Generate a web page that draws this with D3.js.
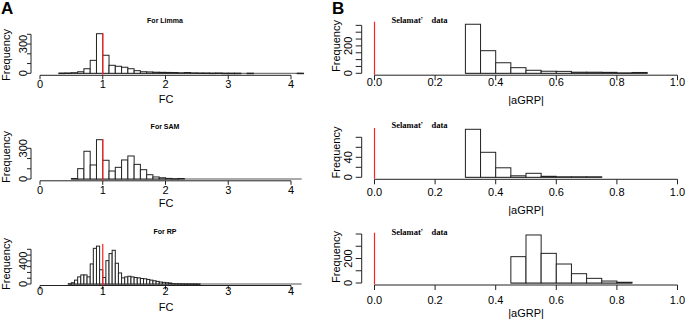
<!DOCTYPE html>
<html><head><meta charset="utf-8">
<script src="https://cdn.jsdelivr.net/npm/d3@7"></script>
<style>
body{margin:0;background:#fff}
svg{display:block}
text{font-family:"Liberation Sans",Arial,Helvetica,sans-serif;fill:#000}
</style>
</head><body>
<svg id="c" width="685" height="321"></svg>
<script>
// ---- data ----
// Panel A: fold-change (FC) histograms
const fcTicks = [0, 1, 2, 3, 4];
const limmaStart = 0.3, limmaWidth = 0.1;
const limmaCounts = [2,3,6,16,47,133,406,185,82,72,62,47,27,16,14,11,10,9,8,5,8,4,3,3,2,3,1,1,1,0,1,0,0,0,0,0,0,0,1];
const samStart = 0.5, samWidth = 0.1;
const samCounts = [5,101,271,137,384,183,78,114,186,225,143,91,42,20,12,6,3,5];
const rpStart = 0.45, rpWidth = 0.05;
const rpCounts = [5,22,67,123,157,157,123,347,617,655,246,112,404,526,583,359,191,106,123,134,123,112,106,95,90,79,67,56,45,34,28,22,17,6,5,4,3,2,2,2,1,1];
// Panel B: |aGRP| histograms (Selamat' data)
const agrpTicks = [0, 0.2, 0.4, 0.6, 0.8, 1.0];
const selWidth = 0.05;
const sel1Start = 0.3;
const sel1Counts = [358,165,77,41,22,15,14,8,8,7,3,6];
const sel2Start = 0.3;
const sel2Counts = [96,50,19,3,8,2,1,1,1];
const sel3Start = 0.45;
const sel3Counts = [215,392,242,155,76,38,16,6];
const titlesA = ["For Limma", "For SAM", "For RP"];
const titleBMain = "Selamat", titleBQuote = "\u2019", titleBTail = " data";
const yTicksA = [[0,100,200,300,400],[0,100,200,300],[0,100,200,300,400,500,600]];
const yLabelsA = [[0,300],[0,300],[0,400]];
const yTicksB = [[0,50,100,150,200,250,300,350],[0,20,40,60,80],[0,100,200,300,400]];
const yLabelsB = [[0,200],[0,40],[0,200]];

// ---- layout ----
const svg = d3.select("#c");
const panels = [
  {counts: limmaCounts, start: limmaStart, w: limmaWidth, side: "A", row: 0, base: 73.3, refV: 400, refPx: 34.3, top: 33, vline: 1, axisY: 75.3, tickLabY: 84, titleY: 20.7, labY: 99, freqY: 55},
  {counts: samCounts, start: samStart, w: samWidth, side: "A", row: 1, base: 179, refV: 300, refPx: 148.3, top: 139, vline: 1, axisY: 180.8, tickLabY: 190, titleY: 126.7, labY: 203, freqY: 157},
  {counts: rpCounts, start: rpStart, w: rpWidth, side: "A", row: 2, base: 284, refV: 600, refPx: 249.3, top: 244, vline: 1, axisY: 285.5, tickLabY: 290.5, titleY: 231.7, labY: 307, freqY: 264},
  {counts: sel1Counts, start: sel1Start, w: selWidth, side: "B", row: 0, base: 73.3, refV: 200, refPx: 45.9, top: 21.7, vline: 0, axisY: 75.2, tickLabY: 82, titleY: 20, labY: 100, freqY: 46},
  {counts: sel2Counts, start: sel2Start, w: selWidth, side: "B", row: 1, base: 177.3, refV: 40, refPx: 157.3, top: 128, vline: 0, axisY: 179.3, tickLabY: 192, titleY: 125, labY: 210, freqY: 152.5},
  {counts: sel3Counts, start: sel3Start, w: selWidth, side: "B", row: 2, base: 283, refV: 200, refPx: 258.5, top: 232.7, vline: 0, axisY: 285, tickLabY: 300, titleY: 231.7, labY: 312.5, freqY: 257}
];

panels.forEach(p => {
  const isA = p.side === "A";
  const x = isA ? d3.scaleLinear().domain([0, 4]).range([40, 291])
                : d3.scaleLinear().domain([0, 1]).range([374.5, 677.5]);
  const y = d3.scaleLinear().domain([0, p.refV]).range([p.base, p.refPx]);
  const g = svg.append("g");
  const bins = p.counts.map((c, i) => ({x0: p.start + i * p.w, x1: p.start + (i + 1) * p.w, c}));
  const endX = isA ? x(4.17) : x(bins[bins.length - 1].x1);
  // baseline of empty / low bins
  g.append("line").attr("x1", x(p.start)).attr("x2", endX)
    .attr("y1", p.base).attr("y2", p.base).attr("stroke", "#555").attr("stroke-width", 1);
  g.selectAll("rect").data(bins.filter(d => d.c > 0)).join("rect")
    .attr("x", d => x(d.x0)).attr("width", d => x(d.x1) - x(d.x0))
    .attr("y", d => y(d.c)).attr("height", d => Math.max(0.5, y(0) - y(d.c)))
    .attr("fill", "#fff").attr("stroke", "#222").attr("stroke-width", 1);
  // x axis
  const xt = isA ? fcTicks : agrpTicks;
  const fmt = isA ? d3.format("d") : d3.format(".1f");
  const tl = isA ? 4 : 5;
  g.append("line").attr("x1", x(xt[0])).attr("x2", x(xt[xt.length - 1]))
    .attr("y1", p.axisY).attr("y2", p.axisY).attr("stroke", "#222");
  g.selectAll(".xt").data(xt).join("line").attr("class", "xt")
    .attr("x1", d => x(d)).attr("x2", d => x(d)).attr("y1", p.axisY).attr("y2", p.axisY + tl)
    .attr("stroke", "#222");
  g.selectAll(".xl").data(xt).join("text").attr("class", "xl")
    .attr("x", d => x(d)).attr("y", p.tickLabY).attr("text-anchor", "middle")
    .attr("dominant-baseline", "central").attr("font-size", 11).text(fmt);
  // y axis
  const ticks = isA ? yTicksA[p.row] : yTicksB[p.row];
  const labels = isA ? yLabelsA[p.row] : yLabelsB[p.row];
  const axX = isA ? 31 : 361.7;
  const ytl = isA ? 4 : 6;
  const labOff = isA ? 4.5 : 10;
  g.append("line").attr("x1", axX).attr("x2", axX)
    .attr("y1", y(ticks[0])).attr("y2", y(ticks[ticks.length - 1])).attr("stroke", "#222");
  g.selectAll(".yt").data(ticks).join("line").attr("class", "yt")
    .attr("x1", axX - ytl).attr("x2", axX).attr("y1", d => y(d)).attr("y2", d => y(d))
    .attr("stroke", "#222");
  g.selectAll(".yl").data(labels).join("text").attr("class", "yl")
    .attr("transform", d => `translate(${axX - labOff},${y(d)}) rotate(-90)`)
    .attr("text-anchor", "middle").attr("font-size", 11).text(d => String(d));
  // red reference line
  svg.append("line").attr("x1", x(p.vline)).attr("x2", x(p.vline))
    .attr("y1", p.top).attr("y2", p.base + 1.5)
    .attr("stroke", "#ff2020").attr("stroke-width", 1.2);
  // axis titles
  svg.append("text").attr("x", isA ? 166 : 526).attr("y", p.labY)
    .attr("text-anchor", "middle").attr("font-size", 11).attr("dominant-baseline", "central")
    .text(isA ? "FC" : "|aGRP|");
  svg.append("text").attr("transform", `translate(${isA ? 5.5 : 335.5},${p.freqY}) rotate(-90)`)
    .attr("text-anchor", "middle").attr("font-size", 11).attr("dominant-baseline", "central")
    .text("Frequency");
  // panel titles
  if (isA) {
    svg.append("text").attr("x", 165).attr("y", p.titleY).attr("text-anchor", "middle")
      .attr("dominant-baseline", "central").attr("font-size", 7).attr("font-weight", "bold")
      .text(titlesA[p.row]);
  } else {
    const t = svg.append("text").attr("x", 391.5).attr("y", p.titleY)
      .attr("dominant-baseline", "central").attr("font-size", 8.5).attr("font-weight", "bold")
      .style("font-family", "Liberation Serif, Times New Roman, serif");
    t.append("tspan").text(titleBMain);
    t.append("tspan").style("font-family", "Noto Sans CJK SC").attr("font-weight", "normal").text(titleBQuote);
    t.append("tspan").text(titleBTail);
  }
});
// panel letters
svg.append("text").attr("x", 1).attr("y", 14).attr("font-size", 17).attr("font-weight", "bold").text("A");
svg.append("text").attr("x", 332).attr("y", 14).attr("font-size", 17).attr("font-weight", "bold").text("B");
</script>
</body></html>
